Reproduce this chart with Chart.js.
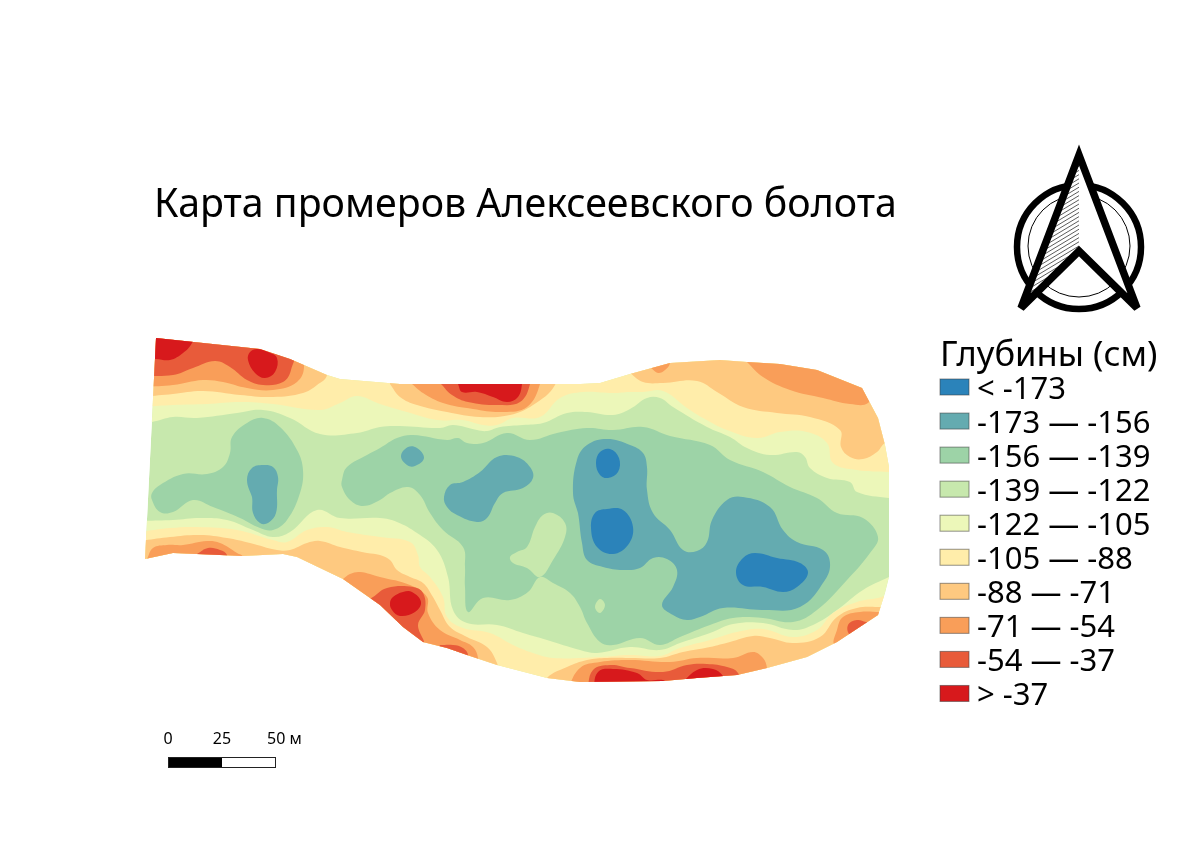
<!DOCTYPE html>
<html>
<head>
<meta charset="utf-8">
<title>Карта промеров Алексеевского болота</title>
<script src="https://cdn.jsdelivr.net/npm/chart.js@4/dist/chart.umd.js"></script>
<style>
  html, body { margin: 0; padding: 0; background: #fff; }
  canvas { display: block; }
</style>
</head>
<body>
<canvas id="map" width="1200" height="849"></canvas>
<script>
// Map is traced in sheet units (0-1200 across, 0-849 down), scales do the rest
const titleText = 'Карта промеров Алексеевского болота';
const legendTitle = 'Глубины (см)';
const classLabels = ['< -173', '-173 — -156', '-156 — -139', '-139 — -122', '-122 — -105',
  '-105 — -88', '-88 — -71', '-71 — -54', '-54 — -37', '> -37'];
const classColors = ['#2b83ba', '#64abb0', '#9dd3a7', '#c7e8ad', '#ecf7b9',
  '#ffedaa', '#fec980', '#f99e59', '#e85b3a', '#d7191c'];
const scaleLabels = ['0', '25', '50 м'];

// swamp outline
const outline = [[156,338],[260,349],[290,359],[327,375],[340,379],[400,384],[580,384],[600,383],[630,374],[670,363],[720,360],[747,362],[780,364],[817,370],[862,388],[878,418],[885,445],[889,467],[889,577],[885,593],[878,615],[837,642],[807,657],[767,668],[737,675],[697,678],[663,681],[580,682],[547,678],[497,665],[467,655],[447,648],[423,642],[403,627],[380,605],[343,579],[297,557],[283,554],[243,556],[173,553],[145,559]];

// -156..-139
const green1 = [[152,493],[160,485],[183,474],[207,474],[223,467],[230,453],[232,437],[247,423],[263,418],[280,427],[297,450],[303,470],[300,493],[287,520],[273,530],[260,528],[240,518],[213,507],[193,500],[173,512],[160,512],[152,500],[152,493]];
const green2 = [[342,480],[347,467],[367,455],[380,448],[397,438],[413,435],[447,440],[458,438],[467,443],[483,443],[507,433],[530,440],[557,433],[587,428],[613,430],[643,427],[670,436],[710,445],[730,460],[763,472],[790,487],[817,498],[837,513],[863,518],[878,537],[870,553],[847,580],[817,610],[793,622],[763,618],[733,618],[710,625],[680,637],[660,645],[640,638],[613,645],[600,642],[587,623],[580,607],[570,593],[553,583],[540,577],[528,592],[510,600],[483,598],[468,612],[465,587],[465,567],[463,547],[443,530],[430,513],[420,495],[408,487],[390,493],[380,500],[363,506],[350,500],[342,487],[342,480]];
// -139..-122 tongues inside the green
const lobe1 = [[510,557],[517,552],[527,547],[535,527],[543,515],[553,513],[565,523],[565,537],[553,560],[540,577],[527,568],[513,563],[510,557]];
const lobe2 = [[600,599],[605,605],[600,613],[595,607],[600,599]];

// -173..-156
const teal1 = [[247,480],[252,468],[263,465],[273,467],[278,477],[277,490],[276,513],[268,523],[260,523],[253,513],[252,497],[247,480]];
const teal2 = [[401,456],[408,447],[417,448],[424,458],[415,466],[407,465],[401,456]];
const teal3 = [[444,497],[450,485],[463,482],[480,472],[497,457],[517,457],[530,467],[533,478],[523,488],[503,493],[495,503],[487,518],[477,522],[457,515],[447,507],[444,497]];
const teal4 = [[573,493],[577,460],[587,445],[607,439],[630,445],[643,453],[647,467],[647,490],[653,513],[670,530],[683,550],[697,551],[707,542],[712,520],[727,500],[743,497],[770,507],[783,530],[797,542],[823,550],[830,563],[825,580],[800,607],[763,610],[723,608],[700,617],[687,620],[673,615],[662,605],[673,587],[677,570],[667,559],[653,558],[640,568],[623,570],[603,567],[587,560],[582,543],[578,513],[573,493]];

// < -173
const blue1 = [[596,463],[600,452],[610,449],[619,458],[618,472],[608,478],[600,475],[596,463]];
const blue2 = [[591,528],[595,513],[607,509],[623,510],[633,527],[628,545],[613,554],[597,547],[591,528]];
const blue3 = [[736,572],[743,558],[755,553],[777,558],[800,563],[808,573],[797,587],[783,592],[763,587],[743,585],[736,572]];

// -122..-105
const paleTop = [[140,423],[152,422],[173,417],[197,418],[237,413],[263,410],[290,418],[320,434],[357,433],[380,427],[400,426],[440,428],[453,425],[477,430],[487,431],[500,427],[523,425],[543,423],[567,413],[587,412],[613,415],[630,409],[647,398],[660,398],[673,407],[707,427],[730,437],[747,448],[770,455],[797,452],[805,457],[810,468],[827,478],[850,482],[857,492],[889,498],[905,498],[905,335],[140,335]];
const paleBottom = [[140,521],[173,520],[200,518],[227,520],[253,530],[273,537],[290,532],[317,510],[340,518],[380,518],[397,522],[417,533],[437,550],[448,577],[453,610],[467,623],[497,625],[523,633],[547,640],[580,650],[597,653],[630,647],[660,650],[680,643],[710,633],[733,624],[763,623],[793,630],[813,625],[837,610],[863,590],[889,577],[905,570],[905,700],[140,700]];

// -105..-88
const yellowTop = [[140,407],[173,405],[207,404],[240,402],[273,404],[320,410],[340,403],[357,396],[380,404],[407,412],[437,420],[463,420],[483,425],[497,425],[513,418],[540,417],[560,398],[583,392],[613,393],[630,392],[643,392],[663,391],[687,408],[703,418],[727,430],[757,438],[780,432],[807,432],[827,443],[833,463],[857,470],[889,472],[905,472],[905,335],[140,335]];
const yellowBottom = [[140,532],[170,528],[197,527],[237,530],[273,540],[287,542],[307,530],[327,527],[347,532],[380,537],[410,542],[418,555],[420,567],[430,577],[443,597],[447,617],[463,628],[490,633],[513,645],[533,653],[553,658],[600,657],[630,655],[660,656],[680,648],[710,640],[737,632],[763,629],[793,637],[817,630],[833,613],[857,602],[878,598],[905,593],[905,700],[140,700]];

// -88..-71
const sandTop1 = [[140,397],[173,394],[203,391],[240,395],[273,397],[303,393],[317,385],[327,375],[327,335],[140,335]];
const sandTop2 = [[390,384],[400,397],[417,405],[447,412],[480,417],[510,415],[533,405],[555,385],[555,365],[390,365]];
const sandTop3 = [[630,373],[643,382],[663,383],[697,381],[717,392],[743,407],[777,413],[810,417],[840,430],[841,447],[850,457],[863,459],[877,452],[885,443],[905,435],[905,340],[630,340]];
const sandBottom = [[140,541],[170,537],[200,535],[227,538],[250,543],[277,550],[290,550],[307,543],[320,541],[340,547],[367,553],[380,555],[390,560],[397,570],[410,577],[423,583],[433,597],[440,610],[450,627],[467,637],[487,647],[497,663],[510,700],[535,700],[547,678],[567,667],[587,660],[607,658],[630,658],[660,658],[683,652],[710,647],[730,642],[753,636],[770,638],[793,643],[820,637],[837,617],[857,608],[880,607],[905,607],[905,700],[140,700]];

// -71..-54
const orangeTop1 = [[140,387],[173,385],[203,380],[223,382],[247,388],[273,390],[297,382],[304,365],[295,340],[140,335]];
const orangeTop2 = [[412,384],[423,393],[443,403],[473,409],[503,412],[527,407],[540,384],[540,365],[412,365]];
const orangeTop3 = [[651,368],[658,373],[665,370],[670,363],[670,345],[651,345]];
const orangeTop4 = [[747,362],[763,377],[790,390],[823,398],[850,404],[868,403],[875,385],[860,355],[747,345]];
const orangeLeft = [[147,559],[153,548],[167,545],[183,545],[207,541],[220,543],[237,553],[243,557],[243,575],[147,575]];
const orangeMid = [[343,579],[350,574],[360,572],[380,577],[410,585],[427,597],[428,613],[440,630],[460,640],[473,647],[478,658],[480,690],[340,690]];
const orangeLow = [[567,690],[580,668],[600,662],[630,660],[670,662],[697,658],[733,658],[753,652],[763,658],[767,668],[770,695],[567,695]];
const orangeRight = [[880,612],[860,612],[843,617],[837,630],[835,645],[870,650],[895,625]];

// -54..-37
const redOrangeTop1 = [[140,376],[173,375],[193,368],[215,361],[230,367],[247,380],[263,385],[283,382],[291,370],[293,345],[140,335]];
const redOrangeTop2 = [[441,384],[452,395],[468,402],[497,405],[520,402],[530,384],[530,365],[441,365]];
const redOrangeLeft = [[197,554],[208,548],[220,550],[227,555],[227,570],[197,570]];
const redOrangeMid1 = [[373,597],[387,588],[413,587],[423,593],[425,610],[418,625],[423,645],[380,640],[360,605]];
const redOrangeMid2 = [[440,645],[453,645],[463,648],[468,656],[460,668],[435,655]];
const redOrangeLow = [[587,690],[593,670],[610,665],[630,668],[663,672],[687,665],[707,664],[727,667],[738,673],[745,695],[587,695]];
const redOrangeRight = [[866,622],[857,620],[848,625],[850,635],[870,645],[880,625]];

// > -37
const red1 = [[140,359],[156,359],[170,360],[183,353],[192,343],[195,330],[140,330]];
const red2 = [[248,360],[250,352],[257,349],[268,352],[277,358],[275,372],[265,378],[255,373],[248,360]];
const red3 = [[458,384],[462,392],[477,392],[493,397],[507,402],[518,397],[522,384],[522,370],[458,370]];
const red4 = [[412,592],[421,602],[415,612],[400,616],[392,610],[390,603],[393,597],[403,592],[412,592]];
const red5 = [[593,690],[598,672],[613,669],[637,673],[647,680],[665,681],[668,692],[593,692]];
const red6 = [[680,685],[697,670],[713,669],[723,676],[728,690],[680,690]];

// paint order, bottom layer first; second value is index into classColors
const layers = [
  [outline, 3],
  [green1, 2], [green2, 2], [lobe1, 3], [lobe2, 3],
  [teal1, 1], [teal2, 1], [teal3, 1], [teal4, 1],
  [blue1, 0], [blue2, 0], [blue3, 0],
  [paleTop, 4], [paleBottom, 4],
  [yellowTop, 5], [yellowBottom, 5],
  [sandTop1, 6], [sandTop2, 6], [sandTop3, 6], [sandBottom, 6],
  [orangeTop1, 7], [orangeTop2, 7], [orangeTop3, 7], [orangeTop4, 7], [orangeLeft, 7], [orangeMid, 7], [orangeLow, 7], [orangeRight, 7],
  [redOrangeTop1, 8], [redOrangeTop2, 8], [redOrangeLeft, 8], [redOrangeMid1, 8], [redOrangeMid2, 8], [redOrangeLow, 8], [redOrangeRight, 8],
  [red1, 9], [red2, 9], [red3, 9], [red4, 9], [red5, 9], [red6, 9]
];

const FONT = '"Noto Sans", sans-serif';

// Closed blobs repeat their first point; wrap them so the spline has no corner at the seam
function wrapClosed(shape) {
  const n = shape.length;
  const closed = shape[0][0] === shape[n - 1][0] && shape[0][1] === shape[n - 1][1];
  return closed ? [shape[n - 2], ...shape, shape[1]] : shape;
}

// Everything gets cut to the swamp outline, contours just overrun it
const clipToOutline = {
  id: 'clipToOutline',
  beforeDatasetsDraw(chart) {
    const { ctx, scales } = chart;
    ctx.save();
    ctx.beginPath();
    outline.forEach(([x, y], i) => {
      const px = scales.x.getPixelForValue(x);
      const py = scales.y.getPixelForValue(y);
      if (i === 0) ctx.moveTo(px, py); else ctx.lineTo(px, py);
    });
    ctx.closePath();
    ctx.clip();
  },
  afterDatasetsDraw(chart) {
    chart.ctx.restore();
  }
};

function drawNorthArrow(ctx) {
  ctx.save();
  ctx.strokeStyle = '#000';
  ctx.lineWidth = 6.5;
  ctx.beginPath();
  ctx.arc(1079, 247, 62, 0, Math.PI * 2);
  ctx.stroke();
  ctx.lineWidth = 1;
  ctx.beginPath();
  ctx.arc(1079, 246, 51, 0, Math.PI * 2);
  ctx.stroke();

  const arrow = new Path2D('M1079 155 L1137 308 L1079 251 L1021 308 Z');
  ctx.fillStyle = '#fff';
  ctx.fill(arrow);

  // hatched left half
  ctx.save();
  ctx.clip(new Path2D('M1079 155 L1079 251 L1021 308 Z'));
  ctx.strokeStyle = '#333';
  ctx.lineWidth = 0.8;
  for (let y = 150; y < 370; y += 4.2) {
    ctx.beginPath();
    ctx.moveTo(1015, y);
    ctx.lineTo(1085, y - 42);
    ctx.stroke();
  }
  ctx.restore();

  ctx.lineWidth = 7.5;
  ctx.lineJoin = 'miter';
  ctx.miterLimit = 3;
  ctx.strokeStyle = '#000';
  ctx.stroke(arrow);
  ctx.restore();
}

function drawLegend(ctx) {
  ctx.save();
  ctx.fillStyle = '#000';
  ctx.textBaseline = 'alphabetic';
  ctx.textAlign = 'left';
  ctx.font = '34.6px ' + FONT;
  ctx.fillText(legendTitle, 940, 366);
  ctx.font = '31px ' + FONT;
  classLabels.forEach((label, i) => {
    const top = 379 + i * 34.05;
    ctx.fillStyle = classColors[i];
    ctx.fillRect(940, top, 29, 16);
    ctx.strokeStyle = 'rgba(60,60,60,0.55)';
    ctx.lineWidth = 1;
    ctx.strokeRect(940, top, 29, 16);
    ctx.fillStyle = '#000';
    ctx.fillText(label, 977, top + 20);
  });
  ctx.restore();
}

function drawScaleBar(ctx) {
  ctx.save();
  ctx.fillStyle = '#000';
  ctx.fillRect(168, 757, 54, 11);
  ctx.fillStyle = '#fff';
  ctx.fillRect(222, 757, 54, 11);
  ctx.strokeStyle = '#222';
  ctx.lineWidth = 1;
  ctx.strokeRect(168.5, 757.5, 107, 10);
  ctx.fillStyle = '#000';
  ctx.font = '16px ' + FONT;
  ctx.textBaseline = 'alphabetic';
  ctx.textAlign = 'center';
  ctx.fillText(scaleLabels[0], 168, 744);
  ctx.fillText(scaleLabels[1], 222, 744);
  ctx.textAlign = 'left';
  ctx.fillText(scaleLabels[2], 267, 744);
  ctx.restore();
}

const mapDecor = {
  id: 'mapDecor',
  afterDraw(chart) {
    const ctx = chart.ctx;
    ctx.save();
    ctx.fillStyle = '#000';
    ctx.font = '39.3px ' + FONT;
    ctx.textBaseline = 'alphabetic';
    ctx.fillText(titleText, 154, 217);
    ctx.restore();
    drawNorthArrow(ctx);
    drawLegend(ctx);
    drawScaleBar(ctx);
  }
};

const datasets = layers.map(([shape, cls], i) => ({
  data: wrapClosed(shape).map(([x, y]) => ({ x, y })),
  showLine: true,
  fill: 'shape',
  backgroundColor: classColors[cls],
  borderWidth: 0,
  pointRadius: 0,
  tension: shape === outline ? 0 : 0.4,
  order: layers.length - i   // first layer at the bottom
}));

new Chart(document.getElementById('map'), {
  type: 'scatter',
  data: { datasets },
  plugins: [clipToOutline, mapDecor],
  options: {
    responsive: false,
    animation: false,
    layout: { padding: 0 },
    plugins: { legend: { display: false }, tooltip: { enabled: false }, title: { display: false } },
    scales: {
      x: { type: 'linear', min: 0, max: 1200, display: false },
      y: { type: 'linear', min: 0, max: 849, reverse: true, display: false }
    }
  }
});
</script>
</body>
</html>
